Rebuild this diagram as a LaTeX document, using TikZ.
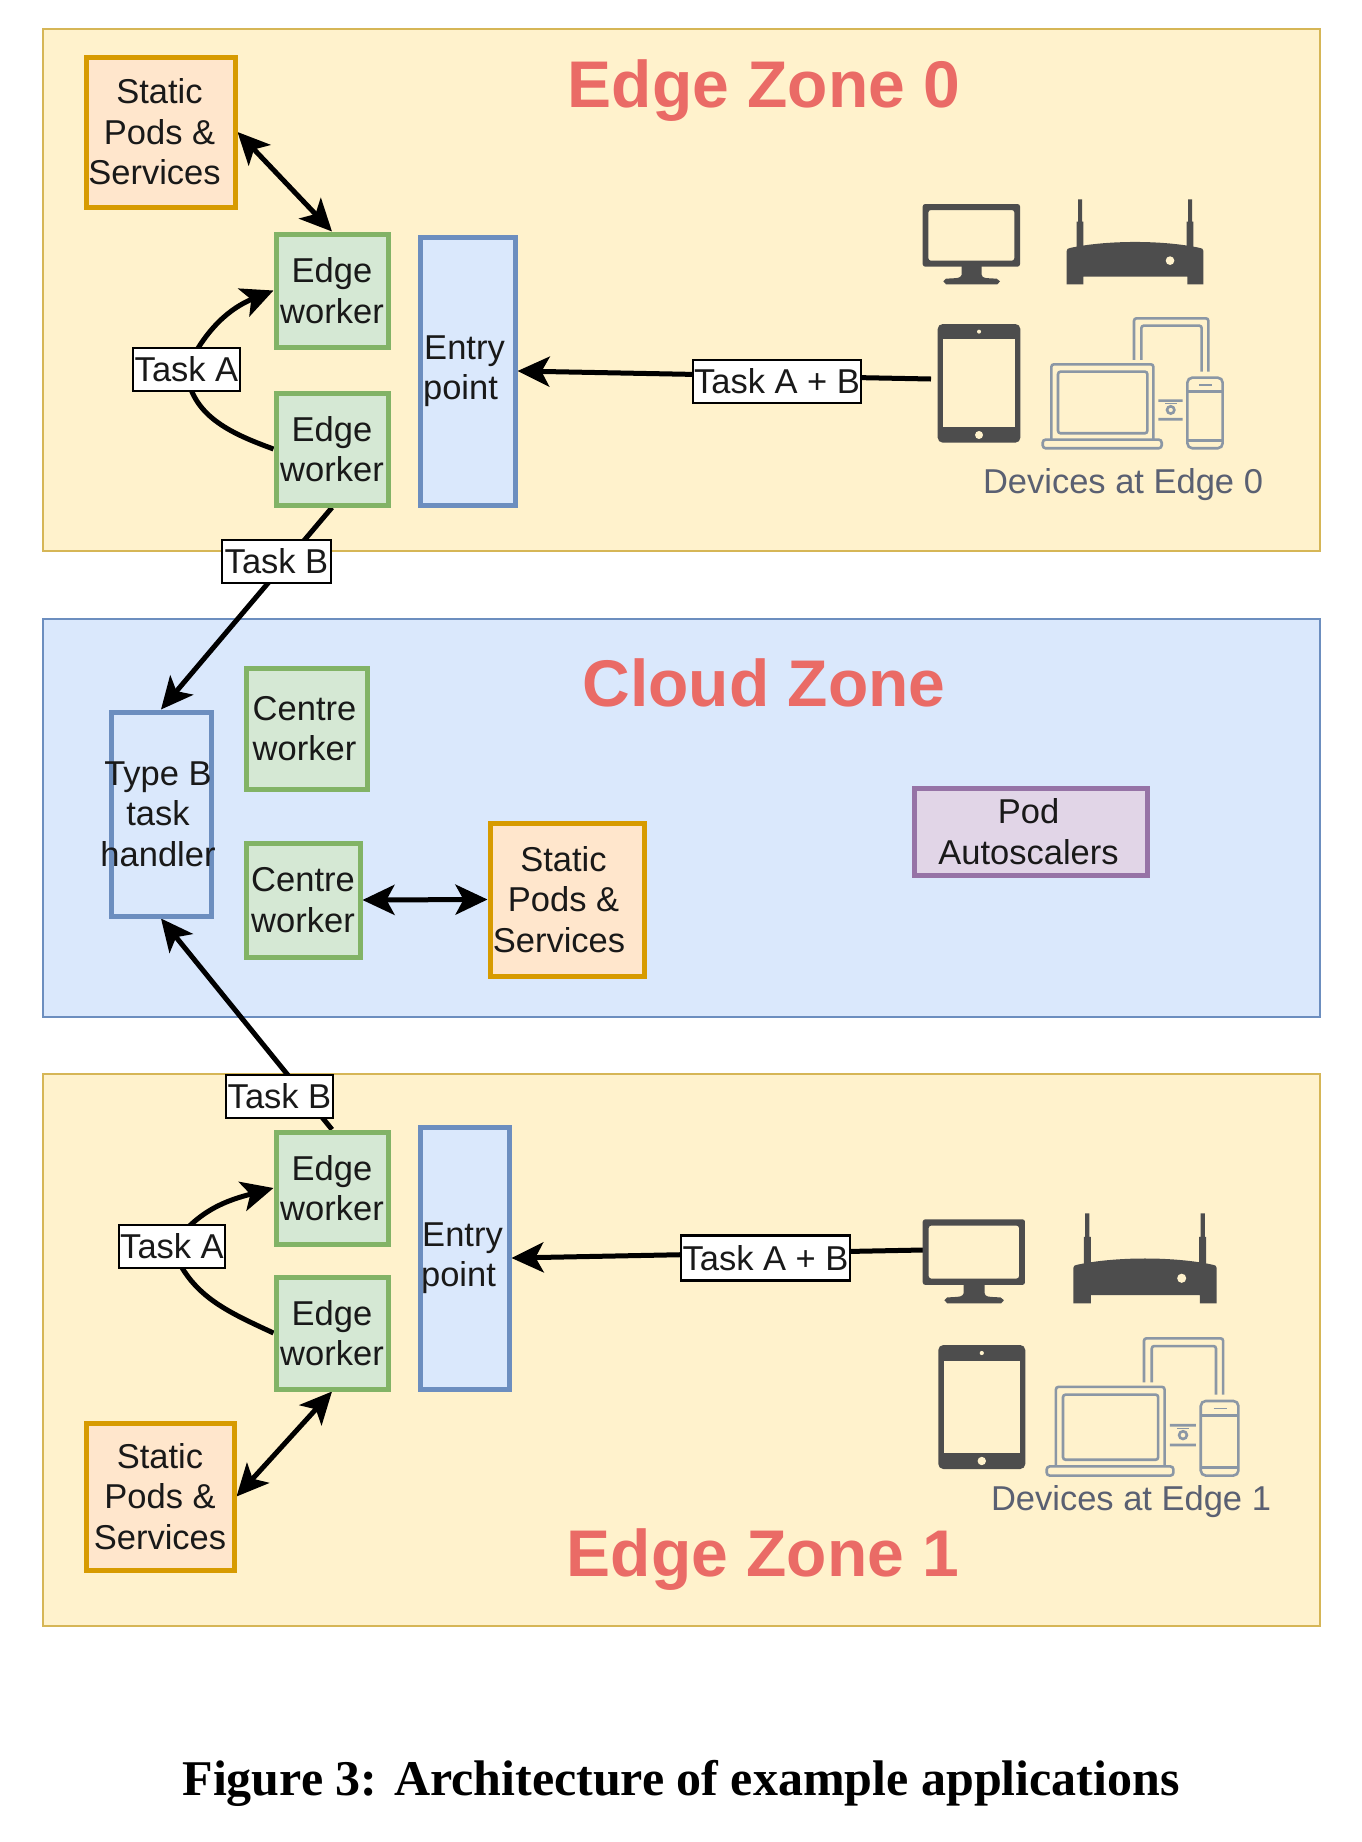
\documentclass[tikz,border=0pt]{standalone}
\usepackage{fontspec}
\setmainfont{Liberation Sans}
\newfontfamily\capfont{Liberation Serif}
\usetikzlibrary{arrows.meta}
\pgfdeclarelayer{zonelayer}
\pgfdeclarelayer{connlayer}
\pgfsetlayers{zonelayer,connlayer,main}
\definecolor{zoneY}{HTML}{FFF2CC}\definecolor{zoneYd}{HTML}{D6B656}
\definecolor{zoneB}{HTML}{DAE8FC}\definecolor{zoneBd}{HTML}{6C8EBF}
\definecolor{orF}{HTML}{FFE6CC}\definecolor{orD}{HTML}{D79B00}
\definecolor{grF}{HTML}{D5E8D4}\definecolor{grD}{HTML}{82B366}
\definecolor{puF}{HTML}{E1D5E7}\definecolor{puD}{HTML}{9673A6}
\definecolor{ttl}{HTML}{EA6B66}\definecolor{icn}{HTML}{4D4D4D}
\definecolor{icl}{HTML}{8B97A5}\definecolor{devt}{HTML}{5A6072}
\newcommand\tl[2][0pt]{\makebox[0pt]{\hspace*{\dimexpr2\dimexpr#1\relax\relax}#2}}
\tikzset{
 x=1pt,y=-1pt,
 fig/.style={draw,line width=5pt,inner sep=0pt,align=center,text=black!90,
   font=\fontsize{34.5}{40.5}\selectfont},
 zone/.style={draw,line width=2.5pt,inner sep=0pt},
 zoney/.style={zone,fill=zoneY,draw=zoneYd},
 zoneb/.style={zone,fill=zoneB,draw=zoneBd},
 pods/.style={fig,fill=orF,draw=orD},
 worker/.style={fig,fill=grF,draw=grD},
 entry/.style={fig,fill=zoneB,draw=zoneBd},
 podas/.style={fig,fill=puF,draw=puD},
 tasklbl/.style={draw=black,fill=white,line width=2.6pt,inner sep=0pt,text=black!90,
   minimum height=43pt,font=\fontsize{34.5}{40.5}\selectfont},
 title/.style={text=ttl,font=\fontsize{66}{70}\selectfont\bfseries,inner sep=0pt},
 devlbl/.style={text=devt,font=\fontsize{34.5}{40}\selectfont,inner sep=0pt},
 conn/.style={line width=5pt,draw=black},
 arr/.style={conn,-{Stealth[length=32pt,width=30pt,inset=8pt]}},
 biarr/.style={conn,{Stealth[length=32pt,width=30pt,inset=8pt]}-{Stealth[length=32pt,width=30pt,inset=8pt]}},
 monitor/.pic={\begin{scope}[x=.3333pt,y=-.3333pt]
   \fill[icn,rounded corners=2.5pt,even odd rule] (0,0) rectangle (292,188) (17,18) rectangle (275,170);
   \fill[icn] (117,185) -- (177,185) -- (177,212) .. controls (180,222) .. (222,224) -- (232,232) -- (224,241) -- (70,241) -- (62,232) -- (70,224) .. controls (112,222) .. (117,212) -- cycle;
 \end{scope}},
 router/.pic={\begin{scope}[x=.3333pt,y=-.3333pt]
   \fill[icn] (0,155) .. controls (2,148) .. (10,146) .. controls (120,122) and (290,122) .. (400,146) .. controls (408,148) .. (410,155) -- (410,255) -- (362,255) -- (362,232) -- (50,232) -- (50,255) -- (0,255) -- cycle;
   \fill[icn] (30,67) rectangle (50,145) (34,0) rectangle (46,70) (360,67) rectangle (380,145) (364,0) rectangle (376,70);
   \fill[zoneY] (310,184) circle (13);
 \end{scope}},
 tablet/.pic={\begin{scope}[x=.3333pt,y=-.3333pt]
   \fill[icn,rounded corners=5pt] (0,0) rectangle (248,356);
   \fill[zoneY] (17,45) rectangle (232,310);
   \fill[zoneY] (124,23) circle (6) (124,333) circle (12);
 \end{scope}},
 devices/.pic={\begin{scope}[x=.3333pt,y=-.3333pt,draw=icl,line width=2.6pt]
   \draw[rounded corners=2.5pt] (274,125) -- (274,0) -- (497,0) -- (497,160);
   \draw[rounded corners=2.5pt] (296,125) -- (296,22) -- (477,22) -- (477,160);
   \draw[rounded corners=2.5pt] (26,362) -- (26,138) -- (332,138) -- (332,362);
   \draw[rounded corners=2.5pt] (46,160) rectangle (314,345);
   \draw[rounded corners=3pt] (0,364) rectangle (357,390);
   \draw[rounded corners=5pt] (434,178) rectangle (540,390);
   \draw (434,220) -- (540,220) (434,367) -- (540,367);
   \draw[line width=1.5pt] (470,200) -- (507,200);
   \draw (347,247) -- (420,247) (347,303) -- (420,303) (384,275) circle (11);
   \draw[line width=1.5pt] (367,256) -- (402,256);
 \end{scope}},
}
\begin{document}
\begin{tikzpicture}
\useasboundingbox (0,0) rectangle (1362,1842);
\begin{pgfonlayer}{zonelayer}
 \fill[white] (0,0) rectangle (1362,1842);
 \node[zoney,minimum width=1277pt,minimum height=522pt] (zone0) at (681.5,290) {};
 \node[zoneb,minimum width=1277pt,minimum height=398pt] (zonec) at (681.5,818) {};
 \node[zoney,minimum width=1277pt,minimum height=552pt] (zone1) at (681.5,1350) {};
\end{pgfonlayer}
% titles
\node[title] (t0) at (764,91) {Edge Zone 0};
\node[title] (tc) at (764,683) {Cloud Zone};
\node[title] (t1) at (763,1560) {Edge Zone 1};
\node[devlbl] (d0) at (1123,485) {Devices at Edge 0};
\node[devlbl] (d1) at (1131,1502) {Devices at Edge 1};
% boxes
\node[pods,minimum width=149pt,minimum height=150pt] (sp0) at (160.5,132) {\tl[-1pt]{Static}\\\tl[-1pt]{Pods \&}\\\tl[-6pt]{Services}};
\node[worker,minimum width=112pt,minimum height=113pt] (ew0) at (332,290.5) {\tl{Edge}\\\tl{worker}};
\node[worker,minimum width=112pt,minimum height=112pt] (ew1) at (332,449) {\tl{Edge}\\\tl{worker}};
\node[entry,minimum width=95pt,minimum height=268pt] (en0) at (467.5,371) {\tl[-3pt]{Entry}\\\tl[-7pt]{point}};
\node[entry,minimum width=100pt,minimum height=204pt] (tbh) at (161,814) {\tl[-3pt]{Type B}\\\tl[-3pt]{task}\\\tl[-3pt]{handler}};
\node[worker,minimum width=121pt,minimum height=121pt] (cw0) at (306.5,728.5) {\tl[-2pt]{Centre}\\\tl[-2pt]{worker}};
\node[worker,minimum width=114pt,minimum height=114pt] (cw1) at (303,900) {\tl{Centre}\\\tl{worker}};
\node[pods,minimum width=154pt,minimum height=153pt] (sp1) at (567,899.5) {\tl[-3.5pt]{Static}\\\tl[-3.5pt]{Pods \&}\\\tl[-8pt]{Services}};
\node[podas,minimum width=233pt,minimum height=87pt] (pod) at (1030.5,831.5) {\tl[-2pt]{Pod}\\\tl[-2pt]{Autoscalers}};
\node[worker,minimum width=112pt,minimum height=112pt] (ew2) at (332,1188) {\tl{Edge}\\\tl{worker}};
\node[worker,minimum width=112pt,minimum height=112pt] (ew3) at (332,1333) {\tl{Edge}\\\tl{worker}};
\node[entry,minimum width=89pt,minimum height=262pt] (en1) at (464.5,1258) {\tl[-2pt]{Entry}\\\tl[-6pt]{point}};
\node[pods,minimum width=148pt,minimum height=147pt] (sp2) at (160,1496.5) {\tl{Static}\\\tl{Pods \&}\\\tl{Services}};
% task labels
\node[tasklbl,minimum width=107pt] (ta0) at (186.5,369.5) {\tl{Task A}};
\node[tasklbl,minimum width=168pt] (tab0) at (777,381.5) {\tl{Task A + B}};
\node[tasklbl,minimum width=109pt] (tb0) at (276.5,561.5) {\tl{Task B}};
\node[tasklbl,minimum width=107pt] (tb1) at (279.5,1096.5) {\tl{Task B}};
\node[tasklbl,minimum width=106pt] (ta1) at (172,1246.5) {\tl{Task A}};
\node[tasklbl,minimum width=169pt,minimum height=45pt] (tab1) at (765.5,1258) {\tl{Task A + B}};
% icons
\pic (m0) at (922.7,204) {monitor};
\pic (r0) at (1066.7,199.3) {router};
\pic (p0) at (937.7,324) {tablet};
\pic (v0) at (1042.7,318.3) {devices};
\pic[xscale=1.051,yscale=1.046] (m1) at (922.7,1219.3) {monitor};
\pic[xscale=1.049,yscale=1.059] (r1) at (1073.3,1213.3) {router};
\pic[xscale=1.052,yscale=1.045] (p1) at (938.3,1345) {tablet};
\pic[xscale=1.065,yscale=1.056] (v1) at (1046.7,1338.3) {devices};
\coordinate (tab0end) at (931,379);
\coordinate (mon1end) at (923,1250);
% caption
\node[inner sep=0pt,font=\fontsize{50}{54}\selectfont\capfont\bfseries] (cap) at (681,1783) {Figure 3: Architecture of example applications};
% connectors
\begin{pgfonlayer}{connlayer}
 \draw[biarr] (sp0.east) -- (ew0.north);
 \draw[conn] (ew1.west) to[out=160,in=-85] (ta0.center);
 \draw[arr] (ta0.center) to[out=65,in=202] (ew0.west);
 \draw[arr] (tab0end) -- (en0.east);
 \draw[arr] (ew1.south) -- (tbh.north);
 \draw[arr] (ew2.north) -- (tbh.south);
 \draw[biarr] (cw1.east) -- (sp1.west);
 \draw[conn] (ew3.west) to[out=155,in=-70] (ta1.center);
 \draw[arr] (ta1.center) to[out=55,in=195] (ew2.west);
 \draw[arr] (mon1end) -- (en1.east);
 \draw[biarr] (ew3.south) -- (sp2.east);
\end{pgfonlayer}
\end{tikzpicture}
\end{document}
